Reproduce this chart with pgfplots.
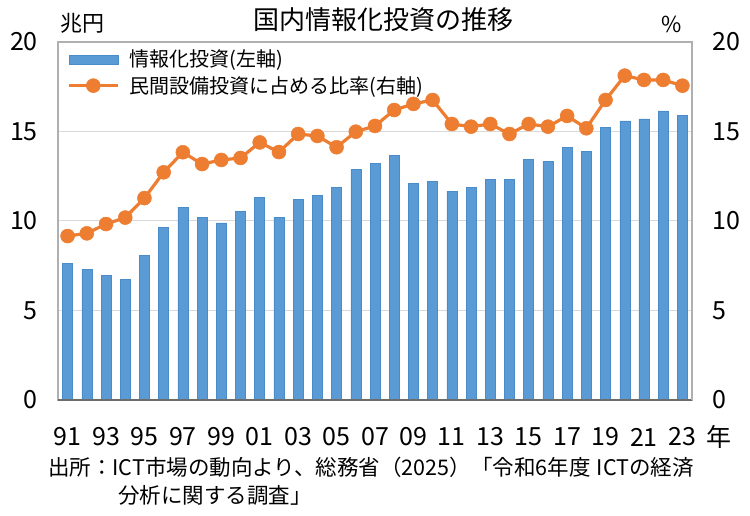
\documentclass[border=0pt]{standalone}
\usepackage{fontspec}
\setmainfont{Noto Sans CJK JP}
\usepackage{pgfplots}
\usepackage{pgfplotstable}
\pgfplotsset{compat=1.18}
\definecolor{barblue}{HTML}{5B9BD5}
\definecolor{baredge}{HTML}{4A8BC9}
\definecolor{lineor}{HTML}{ED7D31}
\definecolor{gridc}{HTML}{D9D9D9}
\definecolor{framec}{HTML}{B0B0B0}
\pgfplotsset{
  barlegend/.style={legend image code/.code={\draw[##1] (0bp,-4.5bp) rectangle (49bp,4.5bp);}},
  linelegend/.style={legend image code/.code={\draw[mark repeat=2,mark phase=2,##1] plot coordinates {(0bp,0bp) (24.5bp,0bp) (49bp,0bp)};}},
}

\pgfplotstableread{
year ict
1991 7.64
1992 7.30
1993 6.95
1994 6.74
1995 8.08
1996 9.65
1997 10.77
1998 10.20
1999 9.89
2000 10.54
2001 11.32
2002 10.20
2003 11.21
2004 11.43
2005 11.88
2006 12.89
2007 13.22
2008 13.67
2009 12.10
2010 12.20
2011 11.66
2012 11.88
2013 12.33
2014 12.33
2015 13.45
2016 13.33
2017 14.12
2018 13.90
2019 15.23
2020 15.59
2021 15.70
2022 16.15
2023 15.92
}\ictdata

\pgfplotstableread{
year ratio
1991 9.16
1992 9.31
1993 9.83
1994 10.19
1995 11.28
1996 12.72
1997 13.84
1998 13.18
1999 13.41
2000 13.52
2001 14.39
2002 13.85
2003 14.86
2004 14.75
2005 14.12
2006 14.99
2007 15.31
2008 16.20
2009 16.54
2010 16.76
2011 15.42
2012 15.27
2013 15.42
2014 14.86
2015 15.42
2016 15.27
2017 15.87
2018 15.18
2019 16.76
2020 18.12
2021 17.88
2022 17.88
2023 17.56
}\ratiodata

\begin{document}
\begin{tikzpicture}
\useasboundingbox (-58bp,-116bp) rectangle (692bp,400bp);
\begin{axis}[
  at={(0bp,0bp)}, anchor=south west,
  scale only axis, width=634bp, height=358bp,
  xmin=1990.5, xmax=2023.5, ymin=0, ymax=20,
  ytick={0,5,10,15,20},
  xtick={1991,1993,...,2023},
  xticklabels={91,93,95,97,99,01,03,05,07,09,11,13,15,17,19,21,23},
  major tick length=0pt,
  ymajorgrids, grid style={gridc, line width=1bp},
  axis line style={framec, line width=1.2bp},
  /pgf/number format/assume math mode=true,
  tick label style={font=\fontsize{25bp}{28bp}\selectfont},
  yticklabel style={anchor=east, inner sep=0pt, xshift=-20bp},
  xticklabel style={anchor=center, inner sep=0pt, yshift=-37bp},
]
\addplot[ybar, bar width=10bp, fill=barblue, draw=baredge, line width=0.5bp] table[x=year,y=ict]{\ictdata};
\end{axis}
\begin{axis}[
  at={(0bp,0bp)}, anchor=south west,
  scale only axis, width=634bp, height=358bp,
  xmin=1990.5, xmax=2023.5, ymin=0, ymax=20,
  axis y line*=right, axis x line*=bottom,
  xtick=\empty,
  x axis line style={draw=gray!85!black, line width=1.4bp, -},
  ytick={0,5,10,15,20},
  major tick length=0pt,
  y axis line style={framec, line width=1.2bp, -},
  /pgf/number format/assume math mode=true,
  tick label style={font=\fontsize{25bp}{28bp}\selectfont},
  yticklabel style={anchor=west, inner sep=0pt, xshift=20bp},
  legend cell align=left,
  legend style={at={(0,1)}, anchor=north west, xshift=9bp, yshift=-6bp,
    draw=none, fill=none, inner sep=0pt, row sep=4bp, column sep=8bp,
    font=\fontsize{20bp}{24bp}\selectfont, nodes={inner sep=2bp}},
]
\addlegendimage{fill=barblue, draw=baredge, line width=0.5bp, barlegend}
\addlegendentry{情報化投資(左軸)}
\addplot[color=lineor, line width=3.2bp, mark=*, mark size=7bp,
  mark options={fill=lineor, draw=lineor, line width=0.5bp}, linelegend]
  table[x=year,y=ratio]{\ratiodata};
\addlegendentry{民間設備投資に占める比率(右軸)}
\end{axis}
\node[font=\fontsize{26bp}{30bp}\selectfont] at (325bp,380bp) {国内情報化投資の推移};
\node[font=\fontsize{22bp}{26bp}\selectfont] at (24bp,377bp) {兆円};
\node[font=\fontsize{22bp}{26bp}\selectfont] at (614bp,376bp) {\%};
\node[font=\fontsize{25bp}{28bp}\selectfont] at (661bp,-37bp) {年};
\node[font=\fontsize{21.5bp}{25bp}\selectfont, anchor=west, inner sep=0pt] at (-10bp,-67bp) {出所：ICT市場の動向より、総務省（2025）「令和6年度\hspace{0.3em}ICTの経済};
\node[font=\fontsize{21.5bp}{25bp}\selectfont, anchor=west, inner sep=0pt] at (60bp,-95bp) {分析に関する調査」};
\end{tikzpicture}
\end{document}
